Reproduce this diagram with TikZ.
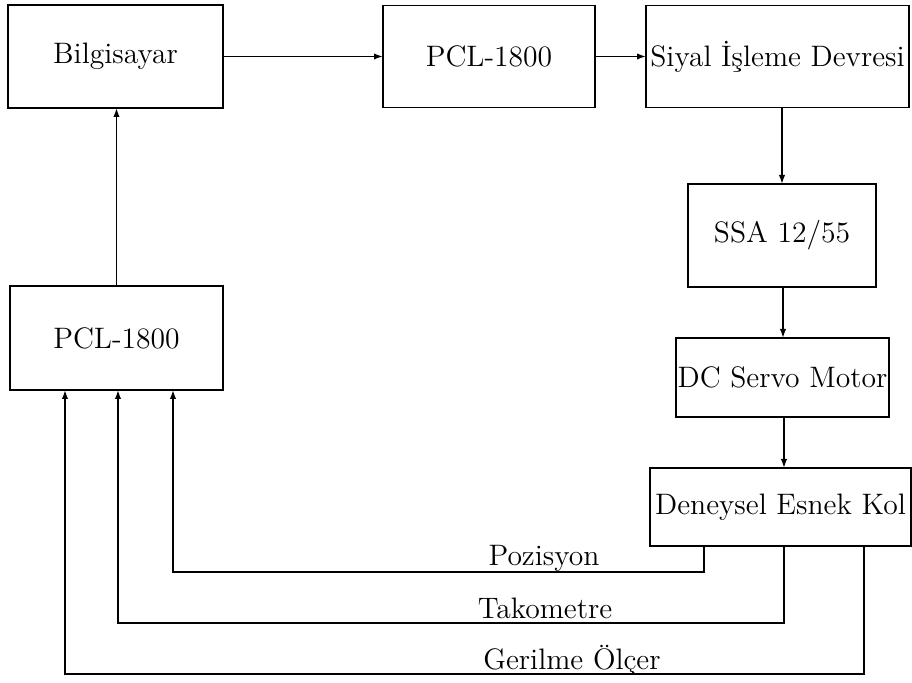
\documentclass[tikz,border=0pt]{standalone}
\usepackage{fontspec}
\usetikzlibrary{arrows.meta}
\begin{document}
\begin{tikzpicture}[x=0.5pt,y=-0.5pt,
  box/.style={draw, line width=0.8pt, inner sep=0pt, outer sep=0pt, font=\fontsize{14.8}{18}\selectfont},
  arr/.style={line width=0.8pt, -{Latex[length=4.5pt,width=3.2pt]}},
  lbl/.style={anchor=base, inner sep=0pt, font=\fontsize{14.8}{18}\selectfont}]
\useasboundingbox (0,0) rectangle (912,683);
\node[box, minimum width=107.5pt, minimum height=51.5pt] (bil) at (115.5,56.5) {Bilgisayar};
\node[box, minimum width=106pt, minimum height=51pt] (pclA) at (489,56.5) {PCL-1800};
\node[box, minimum width=131.5pt, minimum height=51pt] (siy) at (777.5,56.5) {Siyal İşleme Devresi};
\node[box, minimum width=94pt, minimum height=51.5pt] (ssa) at (782,235.5) {SSA 12/55};
\node[box, minimum width=106.5pt, minimum height=39.5pt] (dc) at (782.5,377.5) {DC Servo Motor};
\node[box, minimum width=130.5pt, minimum height=39pt] (den) at (780.5,507) {Deneysel Esnek Kol};
\node[box, minimum width=106.5pt, minimum height=52pt] (pclB) at (116.5,338) {PCL-1800};

\draw[arr] (bil) -- (pclA);
\draw[arr] (pclA) -- (siy);
\coordinate (v1) at (782,0);
\draw[arr] (siy.south -| v1) -- (ssa.north -| v1);
\coordinate (v2) at (783,0);
\draw[arr] (ssa.south -| v2) -- (dc.north -| v2);
\coordinate (v3) at (784,0);
\draw[arr] (dc.south -| v3) -- (den.north -| v3);
\draw[arr] (pclB.north) -- (pclB.north |- bil.south);

\coordinate (f1) at (704,572);
\coordinate (f2) at (784,623);
\coordinate (f3) at (864,674);
\coordinate (i1) at (173,0);
\coordinate (i2) at (118,0);
\coordinate (i3) at (65,0);
\draw[arr] (den.south -| f1) -- (f1) -| (pclB.south -| i1);
\draw[arr] (den.south -| f2) -- (f2) -| (pclB.south -| i2);
\draw[arr] (den.south -| f3) -- (f3) -| (pclB.south -| i3);

\node[lbl] (l1) at (544,566) {Pozisyon};
\node[lbl] (l2) at (545,619) {Takometre};
\node[lbl] (l3) at (572,670) {Gerilme Ölçer};
\end{tikzpicture}
\end{document}
